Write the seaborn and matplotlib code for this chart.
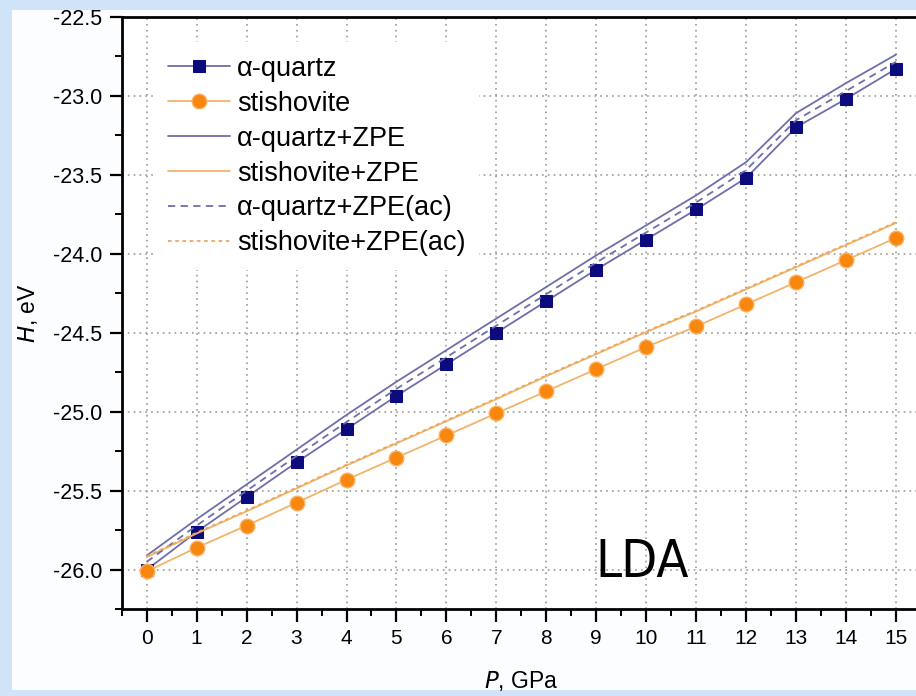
import matplotlib
matplotlib.use("Agg")
import matplotlib.pyplot as plt
import matplotlib.patches as mpatches
from matplotlib.ticker import MultipleLocator
import numpy as np
import pandas as pd
import seaborn as sns

# ---- data ----
pressure = list(range(16))
quartz = [-26.00, -25.76, -25.54, -25.32, -25.11, -24.90, -24.70, -24.50,
          -24.30, -24.10, -23.91, -23.72, -23.52, -23.20, -23.02, -22.83]
stishovite = [-26.01, -25.86, -25.72, -25.575, -25.43, -25.29, -25.15, -25.01,
              -24.87, -24.73, -24.59, -24.46, -24.32, -24.18, -24.04, -23.90]
quartz_zpe = [-25.91, -25.68, -25.46, -25.24, -25.02, -24.81, -24.61, -24.41,
              -24.21, -24.01, -23.82, -23.63, -23.42, -23.11, -22.92, -22.74]
stishovite_zpe = [-25.92, -25.77, -25.63, -25.485, -25.34, -25.20, -25.06, -24.92,
                  -24.775, -24.635, -24.495, -24.365, -24.225, -24.085, -23.945, -23.805]
quartz_zpe_ac = [-25.95, -25.72, -25.50, -25.28, -25.065, -24.855, -24.655, -24.455,
                 -24.255, -24.055, -23.865, -23.675, -23.47, -23.155, -22.97, -22.785]
stishovite_zpe_ac = [-25.915, -25.765, -25.625, -25.48, -25.335, -25.195, -25.055, -24.915,
                     -24.77, -24.63, -24.49, -24.36, -24.22, -24.08, -23.94, -23.80]

labels = ["\u03b1-quartz", "stishovite", "\u03b1-quartz+ZPE", "stishovite+ZPE",
          "\u03b1-quartz+ZPE(ac)", "stishovite+ZPE(ac)"]
x_ticks = list(range(16))
y_ticks = [-26.0, -25.5, -25.0, -24.5, -24.0, -23.5, -23.0, -22.5]

# ---- style ----
sns.set_style("white")
plt.rcParams["font.family"] = ["Liberation Sans", "DejaVu Sans"]
plt.rcParams["axes.unicode_minus"] = False
for key in ["text.color", "axes.labelcolor", "xtick.color", "ytick.color"]:
    plt.rcParams[key] = "black"

Q_LINE = "#6e6eaa"
Q_MARK = "#0b0b7e"
S_LINE = "#f2b46a"
S_MARK = "#f7870f"

fig = plt.figure(figsize=(9.16, 6.96), dpi=100)
fig.patch.set_facecolor("#cfe5f7")
fig.patches.append(mpatches.Rectangle((12 / 916, 6 / 696), 1, 680 / 696,
                                      transform=fig.transFigure,
                                      facecolor="#fbfdff", edgecolor="none", zorder=-10))
ax = fig.add_axes([121.7 / 916, 86.7 / 696, 799.3 / 916, 592.6 / 696])
ax.set_zorder(2)
ax.set_facecolor("white")

series = [
    (quartz, dict(color=Q_LINE, marker="s", markersize=9, markerfacecolor=Q_MARK,
                  markeredgecolor=Q_MARK, linestyle="-", linewidth=1.3)),
    (stishovite, dict(color=S_LINE, marker="o", markersize=10.5, markerfacecolor=S_MARK,
                      markeredgecolor="#fbb060", markeredgewidth=1.0, linestyle="-", linewidth=1.3)),
    (quartz_zpe, dict(color=Q_LINE, linestyle="-", linewidth=1.3)),
    (stishovite_zpe, dict(color=S_LINE, linestyle="-", linewidth=1.3)),
    (quartz_zpe_ac, dict(color=Q_LINE, linestyle=(0, (4, 3)), linewidth=1.3)),
    (stishovite_zpe_ac, dict(color="#e9a860", linestyle=(0, (2, 2)), linewidth=1.3)),
]

for (vals, kw), lab in zip(series, labels):
    df = pd.DataFrame({"P": pressure, "H": vals})
    sns.lineplot(data=df, x="P", y="H", ax=ax, label=lab, zorder=3, **kw)

ax.set_xlim(-0.5, 15.5)
ax.set_ylim(-26.25, -22.5)
ax.set_xticks(x_ticks)
ax.set_yticks(y_ticks)
ax.set_yticklabels([f"{v:.1f}" for v in y_ticks])
ax.xaxis.set_minor_locator(MultipleLocator(0.5))
ax.yaxis.set_minor_locator(MultipleLocator(0.25))
ax.tick_params(axis="both", which="major", direction="out", length=9, width=1.6,
               color="black", pad=5)
ax.tick_params(axis="y", which="major", labelsize=15.5)
ax.tick_params(axis="x", which="major", labelsize=15)
ax.tick_params(axis="both", which="minor", direction="out", length=5, width=1.4, color="black")
ax.tick_params(axis="x", which="both", bottom=True, top=False)
ax.tick_params(axis="y", which="both", left=True, right=False)
for s in ax.spines.values():
    s.set_linewidth(2.0)
    s.set_color("black")

ax.grid(True, which="major", color="#9a9a9a", linestyle=(0, (1, 2.5)), linewidth=1.2, zorder=1)
ax.set_axisbelow(True)

ax.set_xlabel("$\\it{P}$, GPa", fontsize=16.5, labelpad=15)
ax.set_ylabel("$\\it{H}$, eV", fontsize=16.5, labelpad=9)

leg = ax.legend(loc="upper left", bbox_to_anchor=(0.041, 0.957), borderaxespad=0,
                frameon=True, framealpha=1, facecolor="white", edgecolor="none",
                fontsize=19.5, handlelength=2.3, handletextpad=0.26, labelspacing=0.33,
                numpoints=1, borderpad=0.5)
leg.set_zorder(5)

ax.text(8.98, -26.047, "LDA", fontsize=37.5, family=["DejaVu Sans"], fontstretch="condensed",
        color="black", va="baseline", ha="left", zorder=4)

fig.savefig("out.png", dpi=100, facecolor=fig.get_facecolor())
